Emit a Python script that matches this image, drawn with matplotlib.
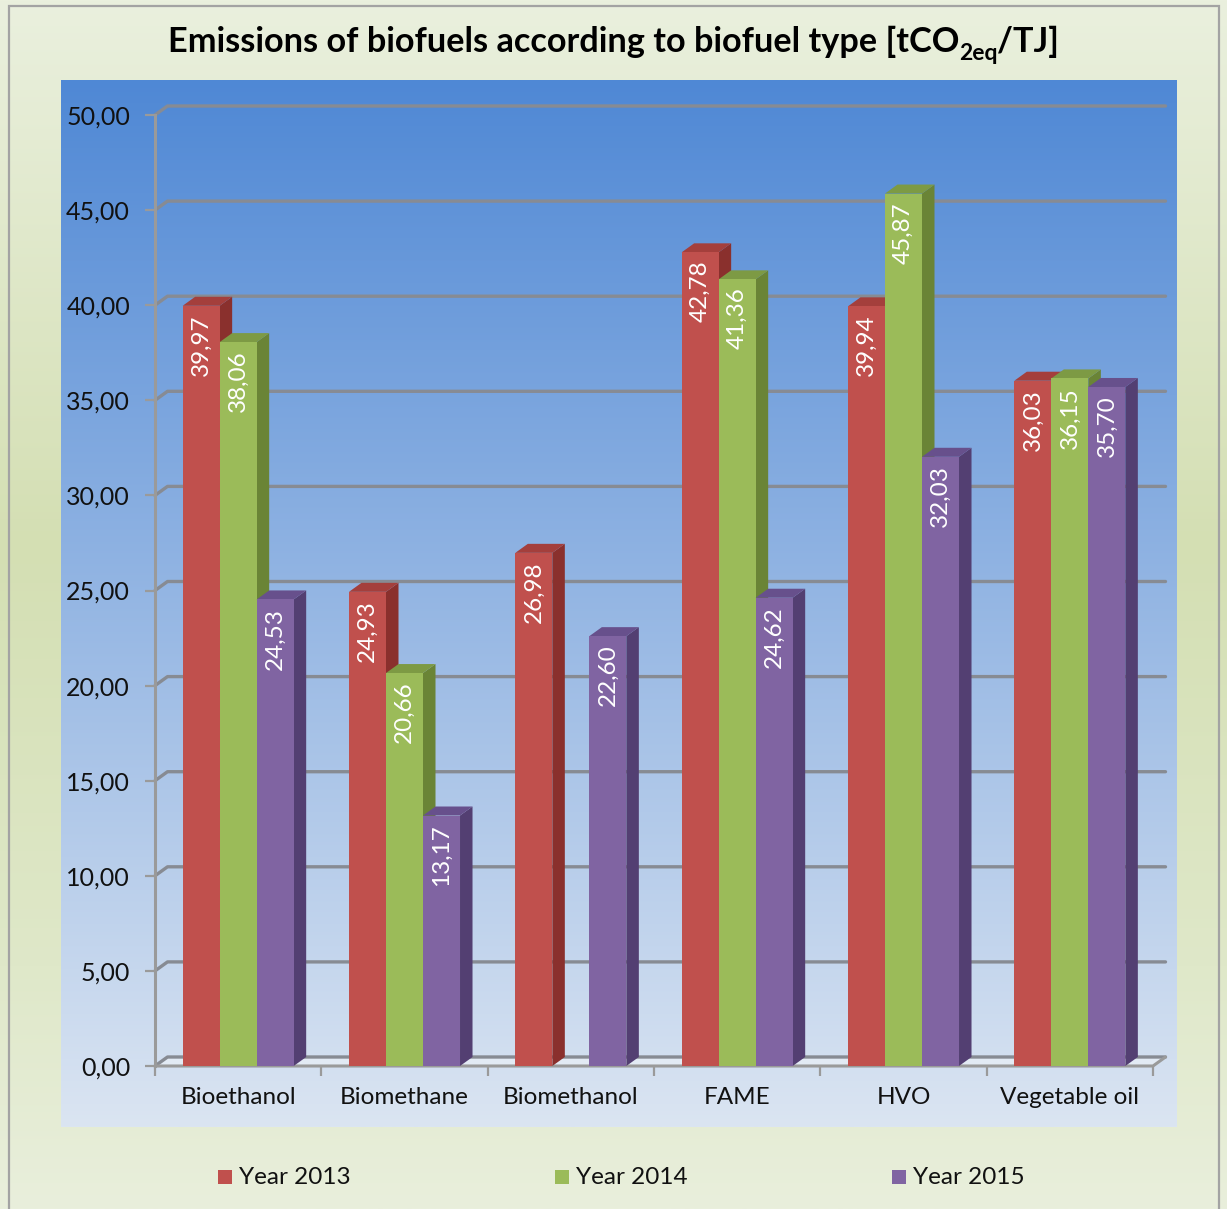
import numpy as np
import matplotlib
matplotlib.use("Agg")
import matplotlib.pyplot as plt
from matplotlib.patches import Polygon, Rectangle
from matplotlib.ticker import FuncFormatter

# ---- data ---------------------------------------------------------------
categories = ["Bioethanol", "Biomethane", "Biomethanol", "FAME", "HVO", "Vegetable oil"]
series_names = ["Year 2013", "Year 2014", "Year 2015"]
year_2013 = [39.97, 24.93, 26.98, 42.78, 39.94, 36.03]
year_2014 = [38.06, 20.66, np.nan, 41.36, 45.87, 36.15]
year_2015 = [24.53, 13.17, 22.60, 24.62, 32.03, 35.70]
y_ticks = [0, 5, 10, 15, 20, 25, 30, 35, 40, 45, 50]

series_values = [year_2013, year_2014, year_2015]
front_colors = ["#C0504D", "#9BBB59", "#8064A2"]
top_colors = ["#A43F3C", "#7D9A44", "#67508C"]
side_colors = ["#8A302D", "#6A8436", "#533F72"]

plt.rcParams["font.family"] = ["Lato", "DejaVu Sans"]

W, H = 1227, 1209
fig = plt.figure(figsize=(W / 100, H / 100), dpi=100)


def fx(px):
    return px / W


def fy(py):
    return 1 - py / H


def vertical_gradient(stops, n=512):
    pos = [s[0] for s in stops]
    cols = [matplotlib.colors.to_rgb(s[1]) for s in stops]
    t = np.linspace(0, 1, n)
    arr = np.zeros((n, 1, 3))
    for c in range(3):
        arr[:, 0, c] = np.interp(t, pos, [col[c] for col in cols])
    return arr


def comma(v):
    return f"{v:.2f}".replace(".", ",")


# ---- chart area background ---------------------------------------------
bg = fig.add_axes([0, 0, 1, 1], zorder=0)
bg.imshow(vertical_gradient([(0, "#EAF0DE"), (0.45, "#D4DFB3"), (0.8, "#DFE8C9"), (1, "#E9EFDC")]),
          aspect="auto", extent=[0, 1, 0, 1], origin="upper")
bg.set_xlim(0, 1)
bg.set_ylim(0, 1)
bg.axis("off")
bg.add_patch(Rectangle((fx(9), -0.01), (1219 - 9) / W, fy(6) + 0.01, fill=False,
                       ec="#A3A3A3", lw=1.6))

# ---- plot area background ----------------------------------------------
pan = fig.add_axes([fx(61), fy(1127), (1177 - 61) / W, (1127 - 80) / H], zorder=1)
pan.imshow(vertical_gradient([(0, "#4F88D5"), (1, "#DBE5F2")]),
           aspect="auto", extent=[0, 1, 0, 1], origin="upper")
pan.axis("off")

# ---- main axes -----------------------------------------------------------
ax = fig.add_axes([fx(155), fy(1066), (1153 - 155) / W, (1066 - 115) / H], zorder=2)
ax.patch.set_alpha(0)
ax.set_xlim(-0.5, len(categories) - 0.5)
ax.set_ylim(0, 50)
for s in ax.spines.values():
    s.set_visible(False)

# depth of the 3-D walls / bars, converted from a pixel offset into data units
origin = ax.transData.transform((0, 0))
depth = ax.transData.inverted().transform(origin + np.array([12.5, 9.0]))
ddx, ddy = depth[0], depth[1]

grid_col = "#878B93"
x_left, x_right = -0.5, len(categories) - 0.5

# floor
ax.add_patch(Polygon([(x_left, 0), (x_right, 0), (x_right + ddx, ddy), (x_left + ddx, ddy)],
                     closed=True, fc="#EEF2F8", ec="none", alpha=0.6, zorder=1, clip_on=False))
ax.plot([x_left, x_right, x_right + ddx], [0, 0, ddy], color="#9A9A9A", lw=2.2,
        zorder=1.5, clip_on=False, solid_capstyle="round")

# back-wall gridlines with their left-wall diagonals
for t in y_ticks:
    ax.plot([x_left, x_left + ddx, x_right + ddx], [t, t + ddy, t + ddy], color=grid_col,
            lw=2.4, zorder=1.2, clip_on=False, solid_capstyle="round")

# front value axis line
ax.plot([x_left, x_left], [0, 50], color="#9A9A9A", lw=2.2, zorder=1.5, clip_on=False)

# ticks and labels
ax.set_yticks(y_ticks)
ax.yaxis.set_major_formatter(FuncFormatter(lambda v, p: comma(v)))
ax.tick_params(axis="y", length=7, width=1.6, color="#9A9A9A", pad=11, labelsize=18,
               labelcolor="#111111")
ax.set_xticks(np.arange(-0.5, len(categories), 1.0))
ax.set_xticklabels([])
ax.set_xticks(np.arange(len(categories)), minor=True)
ax.set_xticklabels(categories, minor=True)
ax.tick_params(axis="x", which="major", length=7, width=1.6, color="#9A9A9A")
ax.tick_params(axis="x", which="minor", length=0, pad=15, labelsize=17.5, labelcolor="#111111")

# ---- 3-D bars ------------------------------------------------------------
w = 0.2225
n_series = len(series_values)
for j in range(len(categories)):
    for i in range(n_series):
        v = series_values[i][j]
        if np.isnan(v):
            continue
        base_z = 10 + 3 * (j * n_series + i)
        xc = j + (i - 1) * w
        x0 = xc - w / 2
        x1 = xc + w / 2
        ax.add_patch(Polygon([(x1, 0), (x1, v), (x1 + ddx, v + ddy), (x1 + ddx, ddy)],
                             closed=True, fc=side_colors[i], ec="none", zorder=base_z,
                             clip_on=False))
        ax.add_patch(Polygon([(x0, v), (x1, v), (x1 + ddx, v + ddy), (x0 + ddx, v + ddy)],
                             closed=True, fc=top_colors[i], ec="none", zorder=base_z + 1,
                             clip_on=False))
        ax.bar([xc], [v], width=w, color=front_colors[i], zorder=base_z + 2,
               clip_on=False, linewidth=0)
        ax.annotate(comma(v), xy=(xc, v), xytext=(0, -6), textcoords="offset points",
                    rotation=90, ha="center", va="top", color="white", fontsize=17.5,
                    zorder=200, annotation_clip=False)

# ---- title ---------------------------------------------------------------
renderer = fig.canvas.get_renderer()
pieces = [("Emissions of biofuels according to biofuel type [tCO", 24.7, 0),
          ("2eq", 16.5, 8),
          ("/TJ]", 24.7, 0)]
texts = []
for s, size, drop in pieces:
    t = fig.text(0, fy(52 + drop), s, fontsize=size, fontweight="bold", color="#000000",
                 ha="left", va="baseline")
    texts.append(t)
widths = [t.get_window_extent(renderer).width for t in texts]
x = 613.5 - sum(widths) / 2
for t, wd in zip(texts, widths):
    t.set_x(fx(x))
    x += wd

# ---- legend --------------------------------------------------------------
legend_x = [218, 555, 892]
for name, col, lx in zip(series_names, front_colors, legend_x):
    fig.patches.append(Rectangle((fx(lx), fy(1184)), 14 / W, 14 / H, transform=fig.transFigure,
                                 fc=col, ec="none", figure=fig))
    fig.text(fx(lx + 21), fy(1177), name, fontsize=17.5, color="#111111", ha="left",
             va="center")

fig.savefig("out.png", dpi=100)
